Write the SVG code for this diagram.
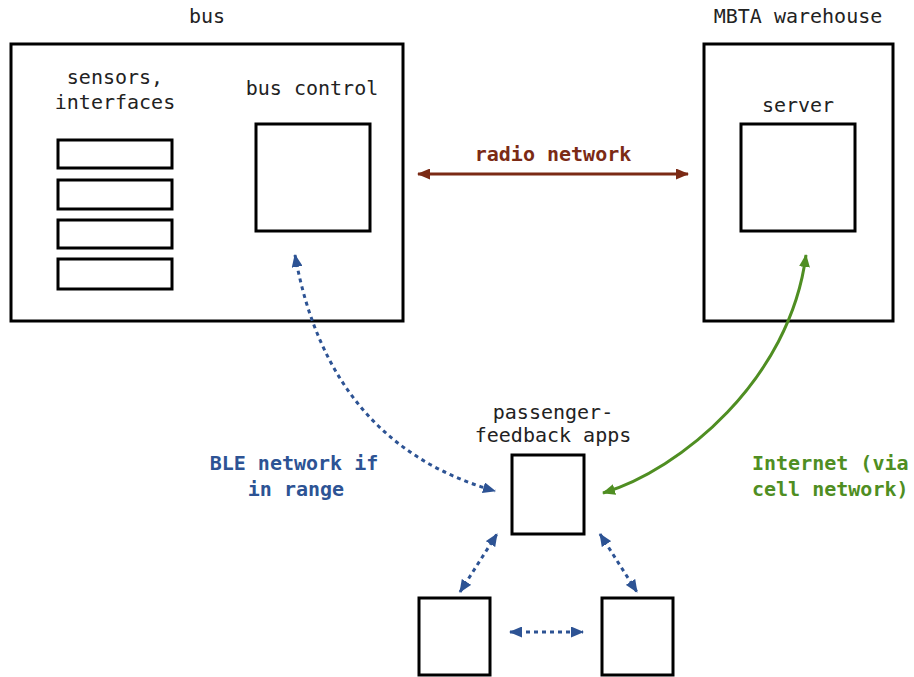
<svg xmlns="http://www.w3.org/2000/svg" width="914" height="677" viewBox="0 0 914 677">
<style>
.box{fill:#fff;stroke:#000;stroke-width:3}
.t{font-family:"DejaVu Sans Mono","Liberation Mono",monospace;font-size:20px;fill:#222}
.tb{font-family:"DejaVu Sans Mono","Liberation Mono",monospace;font-size:20px;font-weight:bold}
.mid{text-anchor:middle}
.red{stroke:#7b2a15;fill:none;stroke-width:3}
.blue{stroke:#2d5394;fill:none;stroke-width:3;stroke-dasharray:4 4}
.green{stroke:#4f8e22;fill:none;stroke-width:3}
</style>
<defs>
<marker id="ar" viewBox="0 0 13 11" refX="12" refY="5.5" markerWidth="13" markerHeight="11" markerUnits="userSpaceOnUse" orient="auto-start-reverse"><path d="M0,0 L13,5.5 L0,11 Z" fill="#7b2a15"/></marker>
<marker id="ab" viewBox="0 0 13 11" refX="12" refY="5.5" markerWidth="13" markerHeight="11" markerUnits="userSpaceOnUse" orient="auto-start-reverse"><path d="M0,0 L13,5.5 L0,11 Z" fill="#2d5394"/></marker>
<marker id="ag" viewBox="0 0 13 11" refX="12" refY="5.5" markerWidth="13" markerHeight="11" markerUnits="userSpaceOnUse" orient="auto-start-reverse"><path d="M0,0 L13,5.5 L0,11 Z" fill="#4f8e22"/></marker>
</defs>
<rect width="914" height="677" fill="#fff"/>
<g id="bus">
<text class="t mid" x="207" y="23">bus</text>
<rect class="box" x="11" y="44" width="392" height="277"/>
<text class="t mid" x="115" y="84">sensors,</text>
<text class="t mid" x="115" y="109">interfaces</text>
</g>
<g id="sensors">
<rect class="box" x="58" y="140" width="114" height="28"/>
<rect class="box" x="58" y="180" width="114" height="29"/>
<rect class="box" x="58" y="220" width="114" height="28"/>
<rect class="box" x="58" y="259" width="114" height="30"/>
</g>
<g id="bus-control">
<text class="t mid" x="312" y="95">bus control</text>
<rect class="box" x="256" y="124" width="114" height="107"/>
</g>
<g id="warehouse">
<text class="t mid" x="798" y="23">MBTA warehouse</text>
<rect class="box" x="704" y="44" width="189" height="277"/>
</g>
<g id="server">
<text class="t mid" x="798" y="112">server</text>
<rect class="box" x="741" y="124" width="114" height="107"/>
</g>
<g id="apps">
<text class="t mid" x="553" y="419">passenger-</text>
<text class="t mid" x="553" y="442">feedback apps</text>
<rect class="box" x="512" y="455" width="72" height="79"/>
</g>
<g id="app-left">
<rect class="box" x="419" y="598" width="71" height="77"/>
</g>
<g id="app-right">
<rect class="box" x="602" y="598" width="71" height="77"/>
</g>
<g id="connectors">
<path class="red" d="M418,174 L688,174" marker-start="url(#ar)" marker-end="url(#ar)"/>
<text class="tb mid" x="553" y="161" fill="#7b2a15">radio network</text>
<path class="blue" d="M295,255 Q329,444 495,491" marker-start="url(#ab)" marker-end="url(#ab)"/>
<text class="tb mid" x="294" y="470" fill="#2d5394">BLE network if</text>
<text class="tb mid" x="296" y="496" fill="#2d5394">in range</text>
<path class="green" d="M603,493 C680,470 790,380 806,255" marker-start="url(#ag)" marker-end="url(#ag)"/>
<text class="tb" x="752" y="470" fill="#4f8e22">Internet (via</text>
<text class="tb" x="752" y="496" fill="#4f8e22">cell network)</text>
<path class="blue" d="M460,592 L497,534" marker-start="url(#ab)" marker-end="url(#ab)"/>
<path class="blue" d="M600,534 L637,592" marker-start="url(#ab)" marker-end="url(#ab)"/>
<path class="blue" d="M510,632 L583,632" marker-start="url(#ab)" marker-end="url(#ab)"/>
</g>
</svg>
